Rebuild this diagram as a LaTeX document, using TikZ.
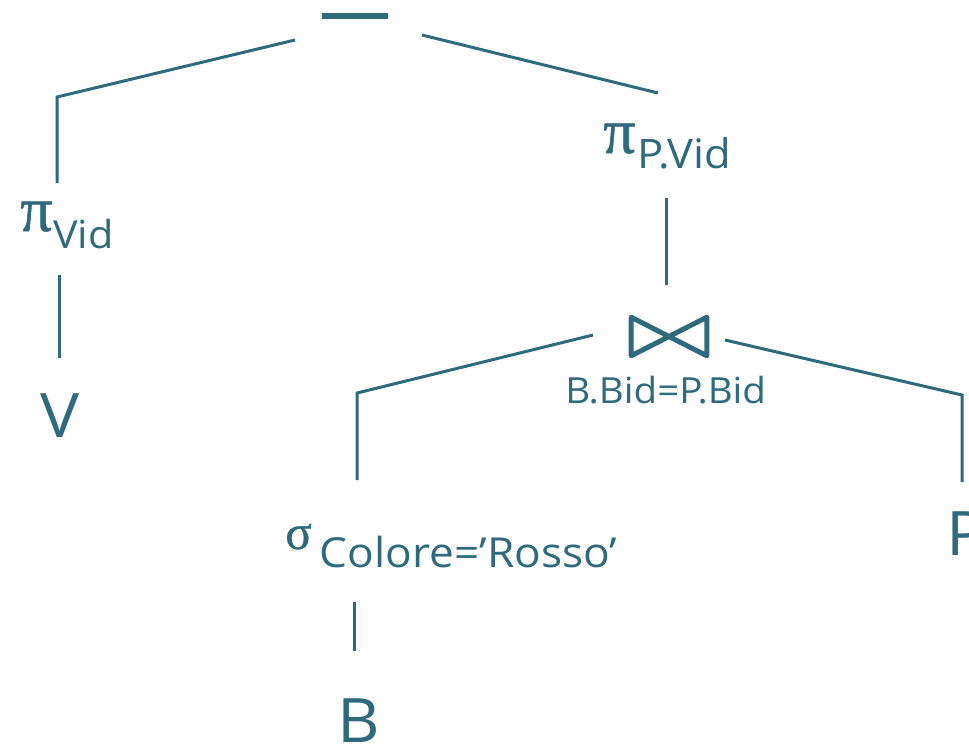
\documentclass[tikz,border=0pt]{standalone}
\usepackage{fontspec}
\setmainfont{Open Sans}[FakeStretch=1.07]
\newfontfamily\gkfont{Liberation Serif}[FakeBold=0.8]
\definecolor{treecol}{RGB}{47,106,124}
\newcommand\opsym[2]{{\gkfont\fontsize{#1}{#1}\selectfont #2}}
\newcommand\opsub[3]{\raisebox{-#1}{\fontsize{#2}{#2}\selectfont #3}}
\begin{document}
\begin{tikzpicture}[x=0.75pt,y=-0.75pt,
  conn/.style={draw=treecol, line width=2.25pt},
  lbl/.style={text=treecol, inner sep=0pt, anchor=base west},
  big/.style={lbl, font=\fontsize{46}{50}\selectfont},
  cond/.style={lbl, font=\fontsize{27}{30}\selectfont},
  bowtie/.style={draw=treecol, line width=3.75pt, line join=round}]
\useasboundingbox (0,0) rectangle (969,744);
% nodes
\node[text=treecol, inner sep=0pt] (minus) at (355,16) {\rule{49.5pt}{4.5pt}};
\node[lbl] (pivid) at (20,231) {\opsym{48}{π}\hspace{0.5pt}\opsub{12.75pt}{29}{Vid}};
\node[big] (V) at (40,437) {V};
\node[lbl] (pipvid) at (603,153) {\opsym{48}{π}\hspace{1.5pt}\opsub{11.25pt}{30.5}{P.Vid}};
\node[inner sep=0pt, minimum width=56.25pt, minimum height=28.5pt] (join) at (669,336.5) {};
\draw[bowtie] (join.north west) -- (join.south east) -- (join.north east) -- (join.south west) -- cycle;
\node[cond] (cond) at (565,403) {B.Bid=P.Bid};
\node[lbl] (sigma) at (285,549) {\opsym{37}{σ}\hspace{6pt}\opsub{13.5pt}{31}{Colore=’Rosso’}};
\node[big, anchor=base] (B) at (359,742) {B};
\node[big] (P) at (946,555) {P};
% connector ends
\coordinate (minus-l) at (295,40);
\coordinate (bend-l) at (57,97);
\coordinate (pivid-t) at (57,183);
\coordinate (pivid-b) at (59,275);
\coordinate (V-t) at (59,358);
\coordinate (minus-r) at (422,35);
\coordinate (pipvid-t) at (658,93);
\coordinate (pipvid-b) at (666,198);
\coordinate (join-t) at (666,285);
\coordinate (join-l) at (593,335);
\coordinate (bend-j) at (357,393);
\coordinate (sigma-t) at (357,480);
\coordinate (join-r) at (725,340);
\coordinate (bend-r) at (962,395);
\coordinate (P-t) at (962,482);
\coordinate (sigma-b) at (354,602);
\coordinate (B-t) at (354,651);
% connectors
\draw[conn] (minus-l) -- (bend-l) -- (pivid-t);
\draw[conn] (pivid-b) -- (V-t);
\draw[conn] (minus-r) -- (pipvid-t);
\draw[conn] (pipvid-b) -- (join-t);
\draw[conn] (join-l) -- (bend-j) -- (sigma-t);
\draw[conn] (join-r) -- (bend-r) -- (P-t);
\draw[conn] (sigma-b) -- (B-t);
\end{tikzpicture}
\end{document}
